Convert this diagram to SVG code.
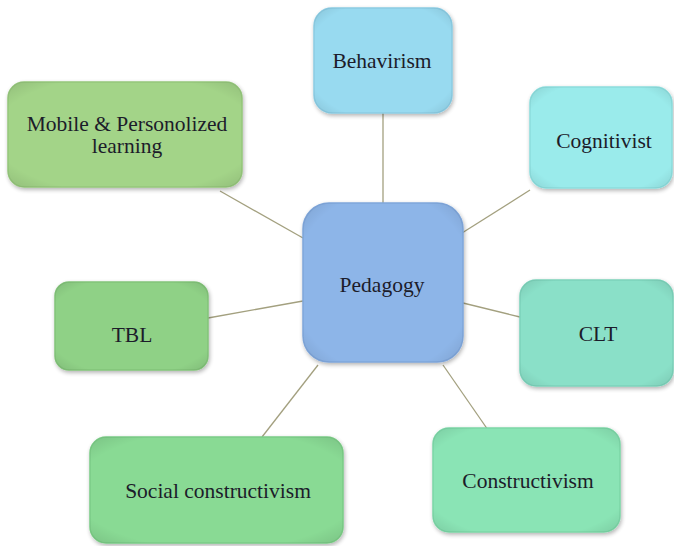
<svg xmlns="http://www.w3.org/2000/svg" width="674" height="546" viewBox="0 0 674 546">
<defs>
<filter id="sh" x="-10%" y="-10%" width="125%" height="130%">
<feGaussianBlur in="SourceAlpha" stdDeviation="2"/>
<feOffset dx="1" dy="2" result="b"/>
<feComponentTransfer><feFuncA type="linear" slope="0.3"/></feComponentTransfer>
<feMerge><feMergeNode/><feMergeNode in="SourceGraphic"/></feMerge>
</filter>
<radialGradient id="hl" cx="0.5" cy="0.5" r="0.7">
<stop offset="0.8" stop-color="#000" stop-opacity="0"/>
<stop offset="1" stop-color="#000" stop-opacity="0.1"/>
</radialGradient>
</defs>
<style>
.box{stroke-width:1.5;filter:url(#sh)}
.ov{fill:url(#hl);stroke:none}
.t{font-family:"Liberation Serif","Times New Roman",serif;font-size:21.5px;fill:#1c1c2a;text-anchor:middle}
.c line{stroke:#a3a07f;stroke-width:1.3}
</style>
<rect width="674" height="546" fill="#ffffff"/>
<g class="c" id="connectors">
<line x1="383" y1="113" x2="383" y2="203"/>
<line x1="220" y1="191" x2="303" y2="238"/>
<line x1="530" y1="190" x2="462" y2="233"/>
<line x1="208" y1="318" x2="303" y2="301"/>
<line x1="463" y1="303" x2="520" y2="317"/>
<line x1="262" y1="437" x2="318" y2="365"/>
<line x1="443" y1="365" x2="488" y2="430"/>
</g>
<g id="pedagogy">
<rect class="box" x="303" y="203" width="160" height="159" rx="26" fill="#8db5e8" stroke="#7fa6da"/>
<rect class="ov" x="303" y="203" width="160" height="159" rx="26"/>
<text class="t" x="382" y="292">Pedagogy</text>
</g>
<g id="behavirism">
<rect class="box" x="314" y="8" width="138" height="105" rx="18" fill="#98daf0" stroke="#8acbe2"/>
<rect class="ov" x="314" y="8" width="138" height="105" rx="18"/>
<text class="t" x="382" y="68">Behavirism</text>
</g>
<g id="mobile">
<rect class="box" x="8" y="82" width="234" height="105" rx="16" fill="#a3d488" stroke="#95c67b"/>
<rect class="ov" x="8" y="82" width="234" height="105" rx="16"/>
<text class="t" x="127" y="131">Mobile &amp; Personolized</text>
<text class="t" x="127" y="153">learning</text>
</g>
<g id="cognitivist">
<rect class="box" x="530" y="87" width="142" height="101" rx="16" fill="#9aebeb" stroke="#8cdddd"/>
<rect class="ov" x="530" y="87" width="142" height="101" rx="16"/>
<text class="t" x="604" y="148">Cognitivist</text>
</g>
<g id="tbl">
<rect class="box" x="55" y="282" width="153" height="88" rx="14" fill="#8fd186" stroke="#82c379"/>
<rect class="ov" x="55" y="282" width="153" height="88" rx="14"/>
<text class="t" x="132" y="342">TBL</text>
</g>
<g id="clt">
<rect class="box" x="520" y="280" width="153" height="106" rx="16" fill="#8ae0c8" stroke="#7cd2ba"/>
<rect class="ov" x="520" y="280" width="153" height="106" rx="16"/>
<text class="t" x="598" y="341">CLT</text>
</g>
<g id="constructivism">
<rect class="box" x="433" y="428" width="187" height="104" rx="16" fill="#8ae4b5" stroke="#7cd6a7"/>
<rect class="ov" x="433" y="428" width="187" height="104" rx="16"/>
<text class="t" x="528" y="488">Constructivism</text>
</g>
<g id="social">
<rect class="box" x="90" y="437" width="253" height="106" rx="16" fill="#89da94" stroke="#7bcc86"/>
<rect class="ov" x="90" y="437" width="253" height="106" rx="16"/>
<text class="t" x="218" y="498">Social constructivism</text>
</g>
</svg>
